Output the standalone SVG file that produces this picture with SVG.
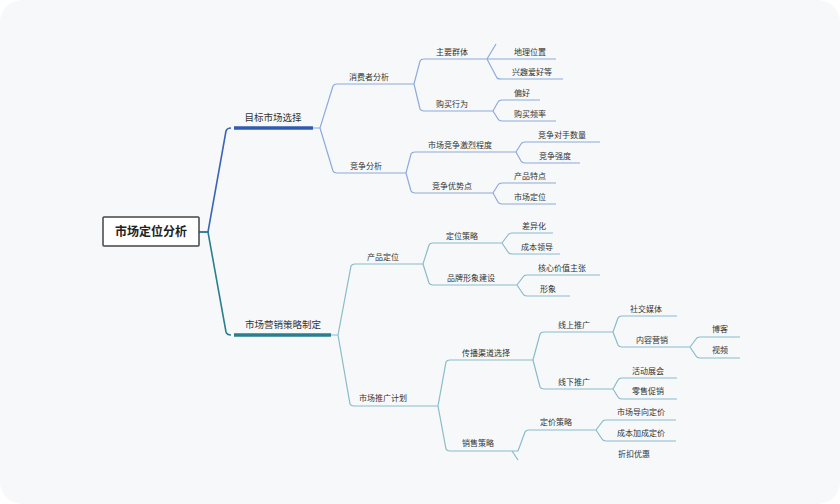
<svg xmlns="http://www.w3.org/2000/svg" width="840" height="504" viewBox="0 0 840 504">
<style>
text{font-family:"Noto Sans CJK SC","Liberation Sans",sans-serif;font-size:8px;fill:#333;text-anchor:middle}
.b{fill:none;stroke:#8eaadc;stroke-width:1.2}
.t{fill:none;stroke:#88bccb;stroke-width:1.2}
</style>
<rect x="0" y="0" width="840" height="504" rx="22" fill="#f7f8f9"/>
<g id="connectors">
<path d="M199 232H208L226 131Q227 128 231 128" fill="none" stroke="#3a64b8" stroke-width="1.6"/>
<path d="M234 128H313" stroke="#2f5cb0" stroke-width="3.5"/>
<path d="M199 232H208L226 332Q227 335 231 335" fill="none" stroke="#2a7f8f" stroke-width="1.6"/>
<path d="M234 335H331" stroke="#2a7f8f" stroke-width="3.5"/>
<path class="b" d="M313 128H320L333 86Q334 84 337 84H407M320 128L333 171Q334 173 337 173H400"/>
<path class="b" d="M407 84H414L420 61Q421 59 424 59H487M414 84L420 109Q421 111 424 111H487"/>
<path class="b" d="M487 59H556M487 59L496 44M487 59L497 78Q498 79 501 79H563"/>
<path class="b" d="M487 111H493L498 102Q499 100 502 100H540M493 111L498 119Q499 121 502 121H556"/>
<path class="b" d="M400 173H406L411 154Q412 152 415 152H510M406 173L411 191Q412 193 415 193H487"/>
<path class="b" d="M510 152H516L521 144Q522 142 525 142H600M516 152L521 161Q522 163 525 163H580"/>
<path class="b" d="M487 193H493L498 185Q499 183 502 183H556M493 193L498 202Q499 204 502 204H556"/>
<path class="t" d="M331 335H338L351 266Q352 264 355 264H417M338 335L350 404Q351 406 354 406H432"/>
<path class="t" d="M417 264H423L429 245Q430 243 433 243H496M423 264L429 283Q430 285 433 285H511"/>
<path class="t" d="M496 243H502L508 235Q509 233 512 233H553M502 243L508 252Q509 254 512 254H560"/>
<path class="t" d="M511 285H517L523 277Q524 275 527 275H600M517 285L523 294Q524 296 527 296H570"/>
<path class="t" d="M432 406H438L446 362Q447 360 450 360H527M438 406L446 449Q447 451 450 451H512"/>
<path class="t" d="M527 360H533L540 334Q541 332 544 332H607M533 360L540 387Q541 389 544 389H607"/>
<path class="t" d="M607 332H613L618 318Q619 316 622 316H677M613 332L618 345Q619 347 622 347H684"/>
<path class="t" d="M684 347H690L696 339Q697 337 700 337H740M690 347L696 356Q697 358 700 358H740"/>
<path class="t" d="M607 389H613L618 380Q619 378 622 378H677M613 389L618 397Q619 399 622 399H677"/>
<path class="t" d="M512 451H518L525 432Q526 430 529 430H590M512 451L518 460"/>
<path class="t" d="M590 430H596L602 422Q603 420 606 420H676M596 430L602 439Q603 441 606 441H676"/>
</g>
<g id="root"><rect x="103" y="217" width="96" height="29" fill="#fff" stroke="#444" stroke-width="1.5" rx="1"/><text x="151" y="236" style="font-size:12px;font-weight:bold;fill:#222">市场定位分析</text></g>
<g id="n1"><text x="273" y="121" style="font-size:9.5px">目标市场选择</text></g>
<g id="n2"><text x="283" y="328" style="font-size:9.5px">市场营销策略制定</text></g>
<g id="n3"><text x="369" y="80">消费者分析</text></g>
<g id="n4"><text x="366" y="169">竞争分析</text></g>
<g id="n5"><text x="452" y="55">主要群体</text></g>
<g id="n6"><text x="452" y="107">购买行为</text></g>
<g id="n7"><text x="530" y="55">地理位置</text></g>
<g id="n8"><text x="532" y="75">兴趣爱好等</text></g>
<g id="n9"><text x="522" y="96">偏好</text></g>
<g id="n10"><text x="530" y="117">购买频率</text></g>
<g id="n11"><text x="460" y="148">市场竞争激烈程度</text></g>
<g id="n12"><text x="452" y="189">竞争优势点</text></g>
<g id="n13"><text x="562" y="138">竞争对手数量</text></g>
<g id="n14"><text x="555" y="159">竞争强度</text></g>
<g id="n15"><text x="530" y="179">产品特点</text></g>
<g id="n16"><text x="530" y="200">市场定位</text></g>
<g id="n17"><text x="383" y="260">产品定位</text></g>
<g id="n18"><text x="383" y="401">市场推广计划</text></g>
<g id="n19"><text x="462" y="239">定位策略</text></g>
<g id="n20"><text x="471" y="281">品牌形象建设</text></g>
<g id="n21"><text x="534" y="229">差异化</text></g>
<g id="n22"><text x="537" y="250">成本领导</text></g>
<g id="n23"><text x="562" y="271">核心价值主张</text></g>
<g id="n24"><text x="548" y="292">形象</text></g>
<g id="n25"><text x="486" y="356">传播渠道选择</text></g>
<g id="n26"><text x="478" y="446">销售策略</text></g>
<g id="n27"><text x="574" y="328">线上推广</text></g>
<g id="n28"><text x="574" y="385">线下推广</text></g>
<g id="n29"><text x="646" y="312">社交媒体</text></g>
<g id="n30"><text x="652" y="343">内容营销</text></g>
<g id="n31"><text x="720" y="332">博客</text></g>
<g id="n32"><text x="720" y="353">视频</text></g>
<g id="n33"><text x="648" y="374">活动展会</text></g>
<g id="n34"><text x="648" y="394">零售促销</text></g>
<g id="n35"><text x="556" y="425">定价策略</text></g>
<g id="n36"><text x="641" y="415">市场导向定价</text></g>
<g id="n37"><text x="641" y="436">成本加成定价</text></g>
<g id="n38"><text x="634" y="457">折扣优惠</text></g>
</svg>
